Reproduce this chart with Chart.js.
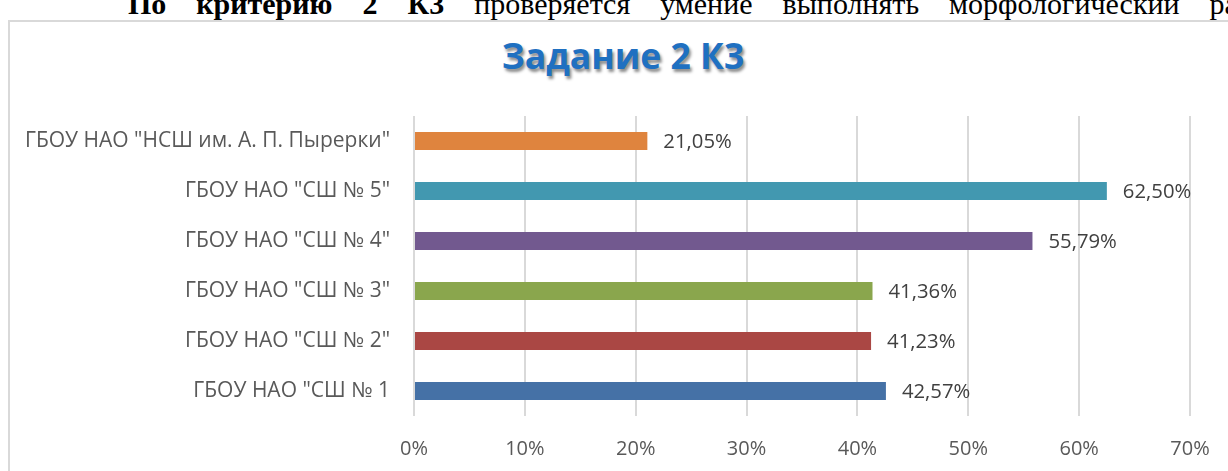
<!DOCTYPE html>
<html>
<head>
<meta charset="utf-8">
<script src="https://cdn.jsdelivr.net/npm/chart.js@4.4.0/dist/chart.umd.min.js"></script>
<style>
  html, body { margin: 0; padding: 0; width: 1228px; height: 471px; overflow: hidden; background: #fff; }
  #doc { position: absolute; left: 128px; top: -11px; width: 1167px; font-family: "Liberation Serif", "Times New Roman", serif; font-size: 30px; line-height: 30px; text-align: justify; text-align-last: justify; white-space: nowrap; color: #000; }
  #box { position: absolute; left: 8px; top: 20px; width: 1240px; height: 480px; border: 2px solid #d9d9d9; box-sizing: border-box; background: #fff; }
  #title { position: absolute; left: 0; width: 1246px; top: 31px; text-align: center; font-family: "Open Sans", sans-serif; font-weight: 700; font-size: 35.5px; color: #1f70c1; text-shadow: 2px 3px 3px rgba(0,0,0,0.45); }
  #wrap { position: absolute; left: 0; top: 0; width: 1228px; height: 471px; }
</style>
</head>
<body>
<div id="doc"><b>По критерию 2 К3</b> проверяется умение выполнять морфологический разбор</div>
<div id="box"></div>
<div id="title">Задание 2 К3</div>
<div id="wrap"><canvas id="c" width="1228" height="471"></canvas></div>
<script>
const categories = [
  'ГБОУ НАО "НСШ им. А. П. Пырерки"',
  'ГБОУ НАО "СШ № 5"',
  'ГБОУ НАО "СШ № 4"',
  'ГБОУ НАО "СШ № 3"',
  'ГБОУ НАО "СШ № 2"',
  'ГБОУ НАО "СШ № 1'
];
const values = [21.05, 62.50, 55.79, 41.36, 41.23, 42.57];
const barColors = ['#df843e', '#4298b0', '#72598f', '#8aa64d', '#aa4744', '#4571a6'];
const tickValues = [0, 10, 20, 30, 40, 50, 60, 70];

const fmt = v => v.toFixed(2).replace('.', ',') + '%';

const dataLabels = {
  id: 'dataLabels',
  afterDatasetsDraw(chart) {
    const ctx = chart.ctx;
    const meta = chart.getDatasetMeta(0);
    ctx.save();
    ctx.font = '20.3px "Open Sans", sans-serif';
    ctx.fillStyle = '#404040';
    ctx.textAlign = 'left';
    ctx.textBaseline = 'middle';
    meta.data.forEach((bar, i) => {
      ctx.fillText(fmt(values[i]), bar.x + 16, bar.y + 1);
    });
    ctx.restore();
  }
};

new Chart(document.getElementById('c'), {
  type: 'bar',
  data: {
    labels: categories,
    datasets: [{
      data: values,
      backgroundColor: barColors,
      borderWidth: 0,
      barPercentage: 0.6,
      categoryPercentage: 0.6
    }]
  },
  options: {
    indexAxis: 'y',
    responsive: false,
    animation: false,
    events: [],
    layout: { padding: { left: 0, right: 38, top: 116, bottom: 0 } },
    plugins: { legend: { display: false }, title: { display: false }, tooltip: { enabled: false } },
    scales: {
      x: {
        min: 0, max: 70,
        afterBuildTicks(s) { s.ticks = tickValues.map(v => ({ value: v })); },
        afterFit(s) { s.height = 55; s.paddingLeft = 0; s.paddingRight = 0; },
        grid: { color: '#d9d9d9', lineWidth: 2, drawTicks: false },
        border: { display: false },
        ticks: { padding: 21, color: '#595959', font: { family: '"Open Sans", sans-serif', size: 20 }, callback: v => v + '%' }
      },
      y: {
        afterFit(s) { s.width = 414; s.paddingTop = 0; s.paddingBottom = 0; },
        grid: { display: false, drawTicks: false },
        border: { display: false },
        ticks: { padding: 24, color: '#595959', font: { family: '"Open Sans", sans-serif', size: 21 } }
      }
    }
  },
  plugins: [dataLabels]
});
</script>
</body>
</html>
